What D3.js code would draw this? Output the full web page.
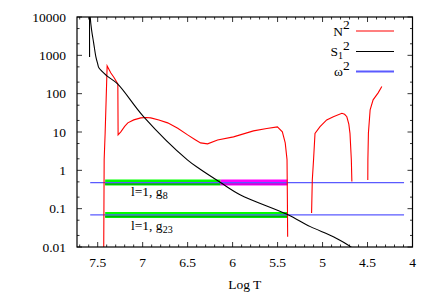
<!DOCTYPE html>
<html>
<head>
<meta charset="utf-8">
<script src="https://cdn.jsdelivr.net/npm/d3@7"></script>
<style>
  body { margin: 0; background: #fff; }
  svg text { font-family: "Liberation Serif", "DejaVu Serif", serif; font-size: 13.5px; fill: #000; }
</style>
</head>
<body>
<div id="chart-area"></div>
<script>
// values: [log T, value]
var n2Core = [[7.435, 0.001], [7.428, 1.9], [7.417, 9.5], [7.406, 69], [7.395, 530], [7.355, 350],
  [7.317, 260], [7.276, 180], [7.273, 8.4], [7.243, 10.1], [7.2, 14], [7.165, 17.3], [7.099, 20.7],
  [7.021, 23.3], [6.96, 23.8], [6.91, 23.3], [6.82, 20.5], [6.722, 17.3], [6.61, 12.5], [6.5, 8.4],
  [6.42, 6.4], [6.356, 5.2], [6.278, 4.9], [6.167, 6.2], [5.99, 7.45], [5.768, 10.7], [5.62, 12.3],
  [5.502, 13.6], [5.447, 10.1], [5.415, 5.2], [5.395, 1.9], [5.391, 0.169], [5.388, 0.0186]]
var n2Mid = [[5.122, 0.077], [5.114, 0.56], [5.1, 1.9], [5.084, 9.2], [5.028, 13.8], [4.954, 20.6],
  [4.88, 25], [4.785, 30.7], [4.755, 29], [4.73, 25], [4.708, 16], [4.695, 9.2], [4.68, 1.9], [4.674, 0.51]]
var n2Surf = [[4.497, 0.56], [4.496, 1.9], [4.49, 9.5], [4.471, 37.8], [4.438, 69], [4.382, 105], [4.341, 153]]
var s1 = [[7.59, 900], [7.59, 30000], [7.583, 10000], [7.568, 4630], [7.545, 2120], [7.52, 914],
  [7.5, 600], [7.487, 472], [7.398, 292], [7.279, 180], [6.988, 24.8], [6.503, 1.87], [6.356, 1.05], [6.134, 0.48],
  [5.912, 0.228], [5.39, 0.0705], [5.136, 0.034], [4.88, 0.0186], [4.676, 0.0098], [4.6, 0.007]]

var omegaVals = [0.48, 0.0686]
var omegaRange = [7.583, 4.094]
var modeNames = ["g8", "g23"]
// propagation zones: [from, to, kind]
var zonesG8 = [[7.417, 6.134, "g"], [6.134, 5.39, "p"]]
var zonesG23 = [[7.417, 5.39, "g"]]

var yTicks = [0.01, 0.1, 1, 10, 100, 1000, 10000]
var xTicks = [7.5, 7, 6.5, 6, 5.5, 5, 4.5, 4]

var svgWidth = 437, svgHeight = 306
var pLeft = 77, pRight = 412.5, pTop = 17, pBottom = 247

var svg = d3.select("#chart-area").append("svg")
  .attr("width", svgWidth).attr("height", svgHeight)

var x = d3.scaleLinear().domain([7.73, 4]).range([pLeft, pRight])
var y = d3.scaleLog().domain([0.01, 10000]).range([pBottom, pTop])

svg.append("clipPath").attr("id", "plot")
  .append("rect").attr("x", pLeft).attr("y", pTop)
  .attr("width", pRight - pLeft).attr("height", pBottom - pTop)

var g = svg.append("g").attr("clip-path", "url(#plot)")

var line = d3.line()
  .x(function(d){ return x(d[0]) })
  .y(function(d){ return y(d[1]) })

// bands along the omega lines
function band(zones, val) {
  zones.forEach(function(z){
    g.append("line")
      .attr("x1", x(z[0])).attr("x2", x(z[1]))
      .attr("y1", y(val)).attr("y2", y(val))
      .attr("stroke", z[2] == "g" ? "#00ff00" : "#ff00ff")
      .attr("stroke-width", 6)
    g.append("line")
      .attr("x1", x(z[0])).attr("x2", x(z[1]))
      .attr("y1", y(val) + 1.5).attr("y2", y(val) + 1.5)
      .attr("stroke", z[2] == "g" ? "#00b000" : "#d000d0")
      .attr("stroke-width", 1.5)
  })
}
band(zonesG8, omegaVals[0])
band(zonesG23, omegaVals[1])

omegaVals.forEach(function(v){
  g.append("line")
    .attr("x1", x(omegaRange[0])).attr("x2", x(omegaRange[1]))
    .attr("y1", y(v)).attr("y2", y(v))
    .attr("stroke", "#5a5aff").attr("stroke-width", 1.2)
})

;[n2Core, n2Mid, n2Surf].forEach(function(seg){
  g.append("path").datum(seg).attr("d", line)
    .attr("fill", "none").attr("stroke", "#ff0000").attr("stroke-width", 1.1)
})
g.append("path").datum(s1).attr("d", line.curve(d3.curveCatmullRom))
  .attr("fill", "none").attr("stroke", "#000").attr("stroke-width", 1.1)

// frame
svg.append("rect").attr("x", pLeft).attr("y", pTop)
  .attr("width", pRight - pLeft).attr("height", pBottom - pTop)
  .attr("fill", "none").attr("stroke", "#000").attr("stroke-width", 1.2)

// x ticks (bottom + mirrored top)
var xMinor = d3.range(4.0, 7.75, 0.1).map(function(v){ return Math.round(v * 10) / 10 })
xMinor.forEach(function(v){
  var major = Math.abs(v * 2 - Math.round(v * 2)) < 1e-6
  var len = major ? 5 : 2.5
  svg.append("line").attr("x1", x(v)).attr("x2", x(v)).attr("y1", pBottom).attr("y2", pBottom - len)
    .attr("stroke", "#000").attr("stroke-width", 0.8)
  svg.append("line").attr("x1", x(v)).attr("x2", x(v)).attr("y1", pTop).attr("y2", pTop + len)
    .attr("stroke", "#000").attr("stroke-width", 0.8)
})
xTicks.forEach(function(v){
  svg.append("text").attr("x", x(v)).attr("y", 267).attr("text-anchor", "middle").text(v)
})

// y ticks (left + mirrored right)
yTicks.forEach(function(v, i){
  var marks = [[v, 5]]
  if (i < yTicks.length - 1) marks.push([v * 2, 2.5], [v * 5, 2.5])
  marks.forEach(function(m){
    svg.append("line").attr("x1", pLeft).attr("x2", pLeft + m[1]).attr("y1", y(m[0])).attr("y2", y(m[0]))
      .attr("stroke", "#000").attr("stroke-width", 0.8)
    svg.append("line").attr("x1", pRight).attr("x2", pRight - m[1]).attr("y1", y(m[0])).attr("y2", y(m[0]))
      .attr("stroke", "#000").attr("stroke-width", 0.8)
  })
  svg.append("text").attr("x", 66).attr("y", y(v) + 4.5).attr("text-anchor", "end").text(v)
})

svg.append("text").attr("x", (pLeft + pRight) / 2).attr("y", 289)
  .attr("text-anchor", "middle").text("Log T")

// mode labels
function modeLabel(name, yy) {
  var t = svg.append("text").attr("x", 131).attr("y", yy)
  t.append("tspan").text("l=1, g")
  t.append("tspan").attr("dy", 3).attr("font-size", 10).text(name.slice(1))
}
modeLabel(modeNames[0], 196)
modeLabel(modeNames[1], 230)

// legend
var legend = [["N", "", "#ff0000", 31], ["S", "1", "#000000", 51.5], ["ω", "", "#5a5aff", 71.5]]
legend.forEach(function(l){
  svg.append("line").attr("x1", 356).attr("x2", 394).attr("y1", l[3]).attr("y2", l[3])
    .attr("stroke", l[2]).attr("stroke-width", l[2] == "#5a5aff" ? 1.8 : 1.2)
  var t = svg.append("text").attr("x", 343).attr("y", l[3] + 4.5).attr("text-anchor", "end").text(l[0])
  if (l[1]) {
    t.append("tspan").attr("dy", 3).attr("font-size", 10).text(l[1])
  }
  svg.append("text").attr("x", 343).attr("y", l[3] - 2).attr("font-size", 10).text("2")
})
</script>
</body>
</html>
